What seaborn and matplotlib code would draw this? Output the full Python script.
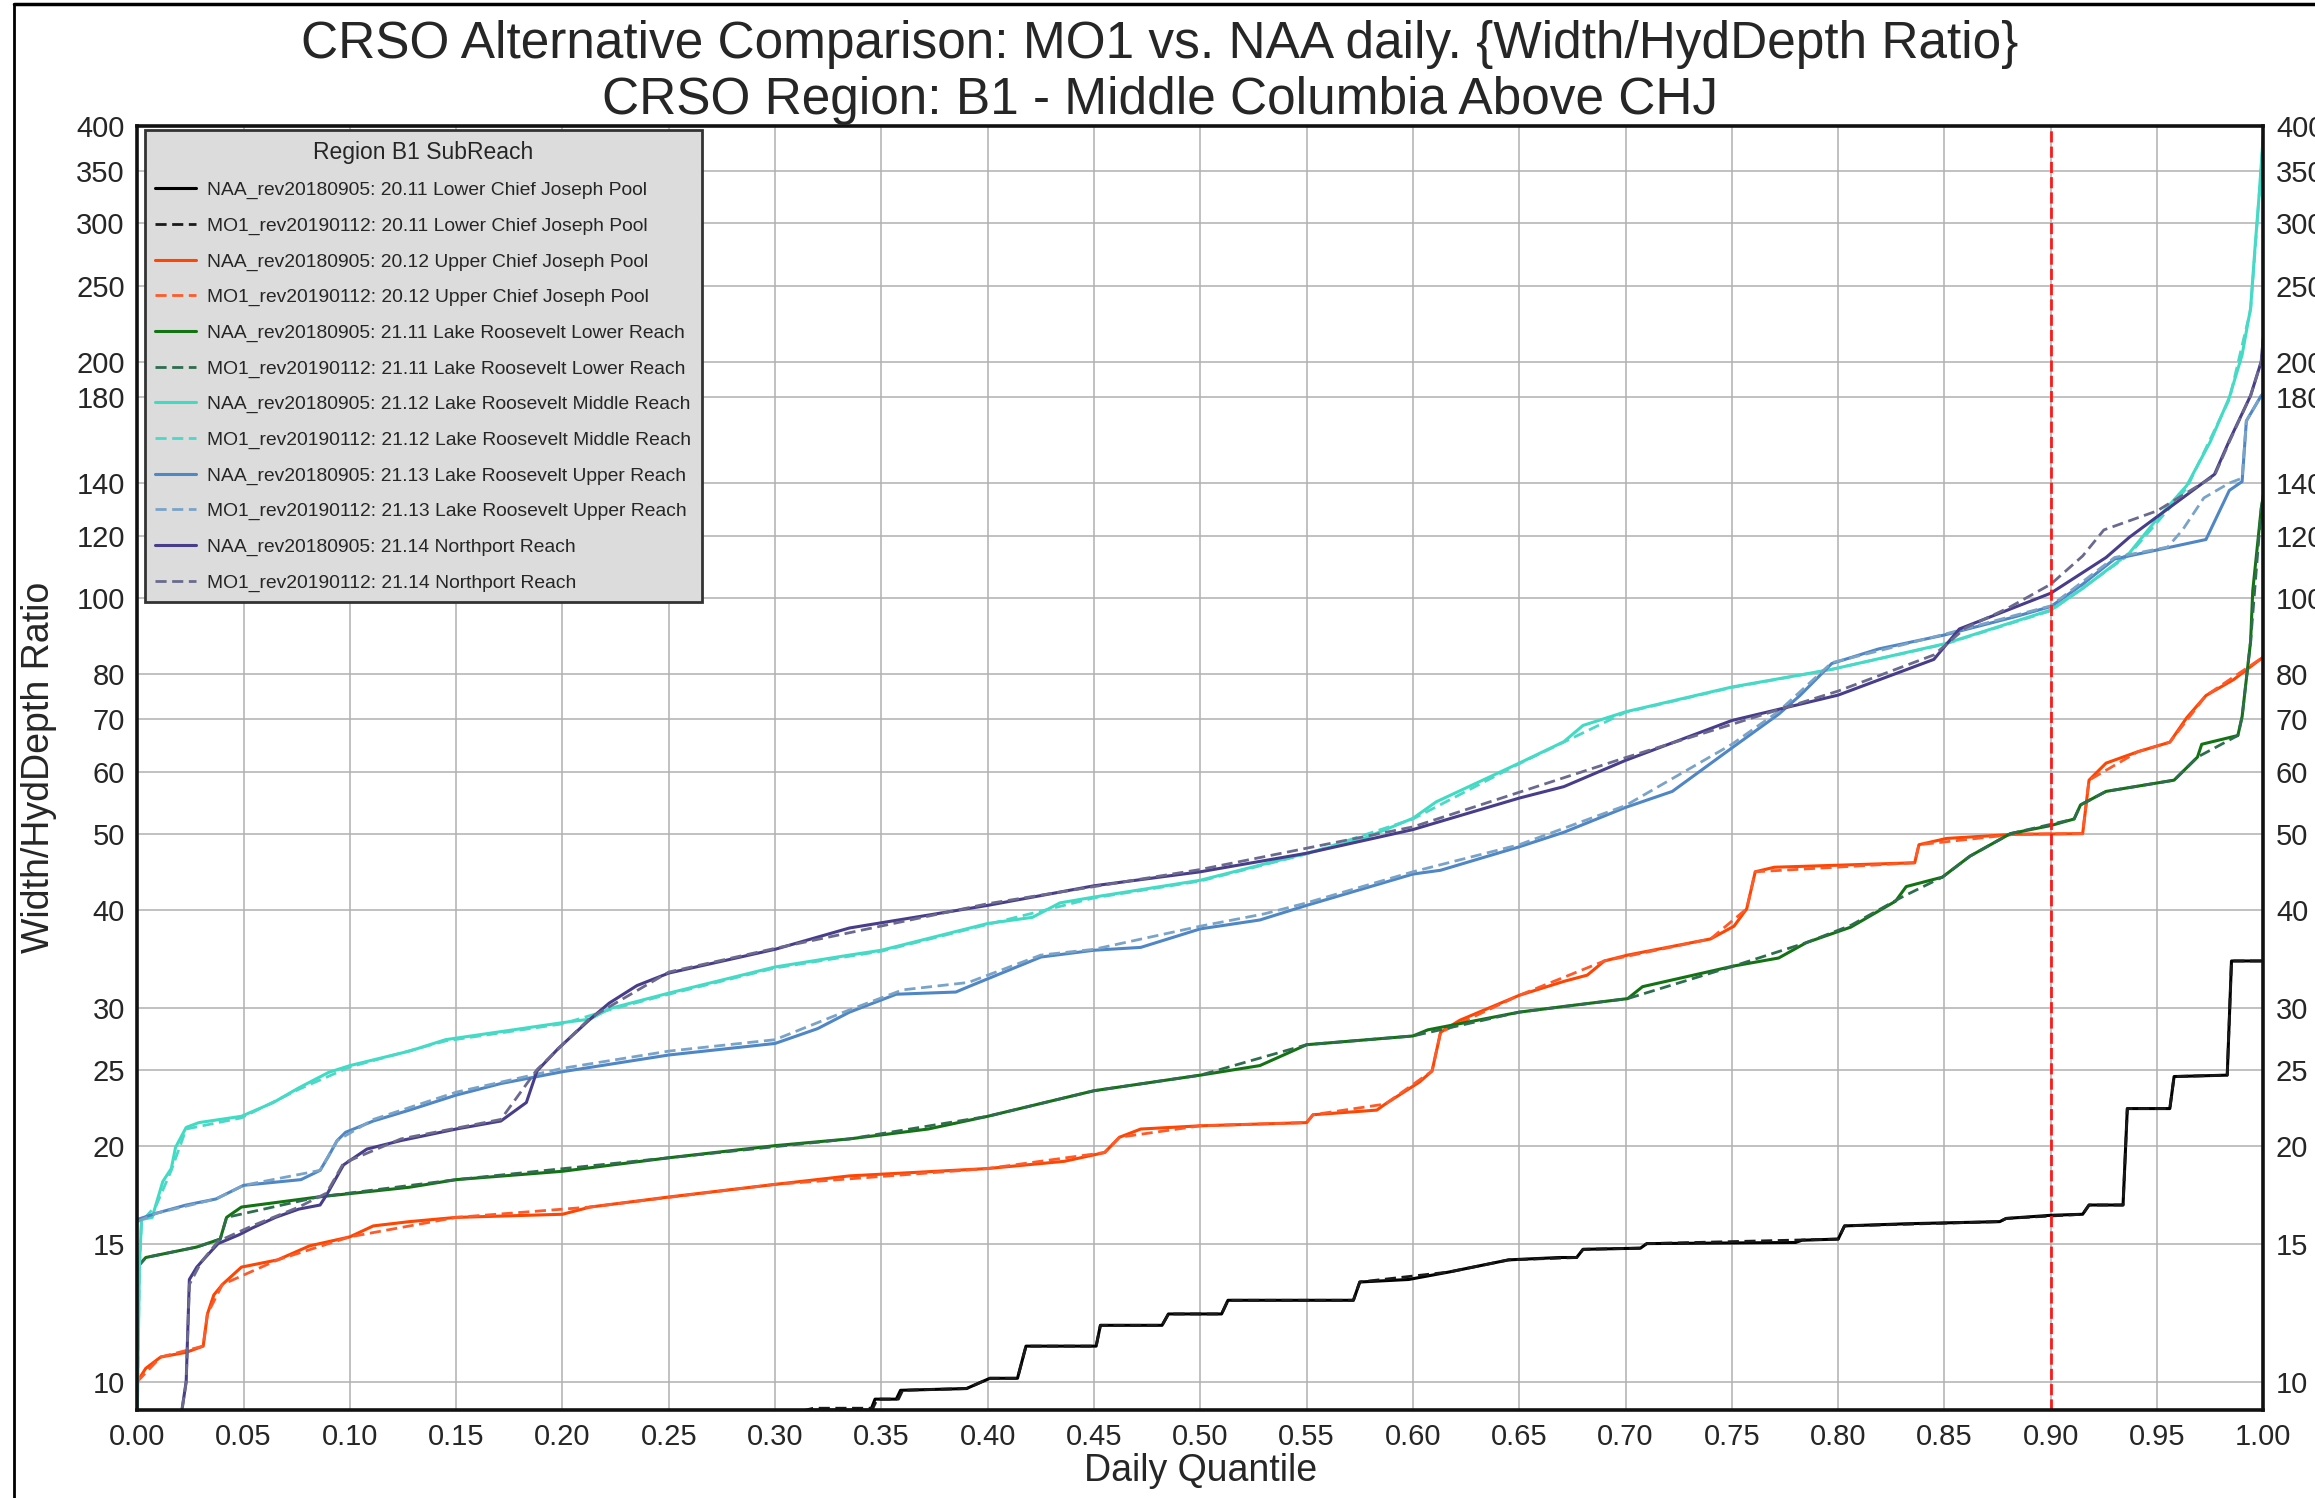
import numpy as np
import pandas as pd
import seaborn as sns
import matplotlib.pyplot as plt
from matplotlib.lines import Line2D
from matplotlib.ticker import NullLocator

# SETTING
title_1 = "CRSO Alternative Comparison: MO1 vs. NAA daily. {Width/HydDepth Ratio}"
title_2 = "CRSO Region: B1 - Middle Columbia Above CHJ"
legend_title = "Region B1 SubReach"
y_ticks = [10, 15, 20, 25, 30, 40, 50, 60, 70, 80, 100, 120, 140, 180, 200, 250, 300, 350, 400]
x_ticks = [0.00, 0.05, 0.10, 0.15, 0.20, 0.25, 0.30, 0.35, 0.40, 0.45, 0.50,
           0.55, 0.60, 0.65, 0.70, 0.75, 0.80, 0.85, 0.90, 0.95, 1.00]
threshold_quantile = 0.90

# 20.11 Lower Chief Joseph Pool
naa_2011_q = [0.0, 0.30, 0.318, 0.345, 0.347, 0.357, 0.359, 0.39, 0.401, 0.414, 0.418, 0.451, 0.453, 0.482,
              0.485, 0.510, 0.513, 0.572, 0.575, 0.598, 0.617, 0.645, 0.669, 0.677, 0.680, 0.707, 0.710,
              0.780, 0.783, 0.800, 0.803, 0.832, 0.876, 0.879, 0.900, 0.915, 0.918, 0.934, 0.936, 0.956,
              0.958, 0.983, 0.985, 1.0]
naa_2011_v = [8.2, 9.0, 9.2, 9.2, 9.5, 9.5, 9.75, 9.8, 10.1, 10.1, 11.1, 11.1, 11.8, 11.8,
              12.2, 12.2, 12.7, 12.7, 13.4, 13.5, 13.8, 14.3, 14.4, 14.4, 14.75, 14.8, 15.0,
              15.05, 15.15, 15.2, 15.8, 15.9, 16.0, 16.15, 16.3, 16.35, 16.8, 16.8, 22.3, 22.3,
              24.5, 24.6, 34.4, 34.4]
mo1_2011_q = [0.0, 0.30, 0.318, 0.346, 0.348, 0.358, 0.360, 0.39, 0.401, 0.414, 0.418, 0.451, 0.453, 0.482,
              0.485, 0.510, 0.513, 0.572, 0.575, 0.617, 0.645, 0.677, 0.680, 0.707, 0.710, 0.800, 0.803,
              0.876, 0.879, 0.915, 0.918, 0.934, 0.936, 0.956, 0.958, 0.983, 0.985, 1.0]
mo1_2011_v = [8.2, 9.0, 9.25, 9.25, 9.5, 9.5, 9.75, 9.8, 10.1, 10.1, 11.1, 11.1, 11.8, 11.8,
              12.2, 12.2, 12.7, 12.7, 13.4, 13.8, 14.3, 14.4, 14.75, 14.8, 15.0, 15.2, 15.8,
              16.0, 16.15, 16.35, 16.8, 16.8, 22.3, 22.3, 24.5, 24.6, 34.4, 34.4]

# 20.12 Upper Chief Joseph Pool
naa_2012_q = [0.0, 0.004, 0.011, 0.023, 0.031, 0.033, 0.036, 0.040, 0.049, 0.066, 0.081, 0.100, 0.111,
              0.128, 0.150, 0.200, 0.213, 0.250, 0.300, 0.335, 0.400, 0.436, 0.455, 0.462, 0.472, 0.500,
              0.550, 0.553, 0.583, 0.587, 0.603, 0.609, 0.613, 0.622, 0.650, 0.671, 0.682, 0.690, 0.701,
              0.740, 0.751, 0.757, 0.761, 0.770, 0.836, 0.838, 0.851, 0.883, 0.915, 0.918, 0.926, 0.941,
              0.956, 0.964, 0.973, 0.986, 1.0]
naa_2012_v = [10.0, 10.4, 10.75, 10.9, 11.1, 12.2, 12.9, 13.3, 14.0, 14.3, 14.9, 15.3, 15.8,
              16.0, 16.2, 16.35, 16.7, 17.2, 17.85, 18.3, 18.7, 19.1, 19.6, 20.5, 21.0, 21.2,
              21.4, 21.9, 22.2, 22.6, 24.1, 24.9, 27.9, 28.9, 31.1, 32.4, 33.0, 34.4, 35.0,
              36.7, 38.1, 40.1, 44.7, 45.3, 45.9, 48.4, 49.3, 49.9, 50.0, 58.5, 61.5, 63.6,
              65.4, 70.3, 75.0, 78.6, 84.0]
mo1_2012_q = [0.0, 0.011, 0.031, 0.033, 0.040, 0.066, 0.100, 0.150, 0.213, 0.300, 0.400, 0.455, 0.462,
              0.500, 0.550, 0.553, 0.587, 0.609, 0.613, 0.650, 0.690, 0.740, 0.757, 0.761, 0.836, 0.838,
              0.883, 0.915, 0.918, 0.941, 0.956, 0.973, 1.0]
mo1_2012_v = [10.0, 10.75, 11.1, 12.2, 13.3, 14.3, 15.3, 16.2, 16.7, 17.85, 18.7, 19.6, 20.5,
              21.2, 21.4, 21.9, 22.6, 24.9, 27.9, 31.1, 34.4, 36.7, 40.1, 44.7, 45.9, 48.4,
              49.9, 50.0, 58.5, 63.6, 65.4, 75.0, 84.0]

# 21.11 Lake Roosevelt Lower Reach
naa_2111_q = [0.0, 0.004, 0.028, 0.039, 0.042, 0.049, 0.085, 0.128, 0.150, 0.200, 0.250, 0.300, 0.335,
              0.372, 0.400, 0.421, 0.450, 0.500, 0.528, 0.550, 0.600, 0.607, 0.650, 0.671, 0.701, 0.708,
              0.751, 0.772, 0.785, 0.806, 0.827, 0.832, 0.849, 0.862, 0.881, 0.900, 0.911, 0.914, 0.926,
              0.958, 0.969, 0.971, 0.988, 0.990, 0.994, 0.995, 0.999, 1.0]
naa_2111_v = [14.0, 14.4, 14.85, 15.2, 16.2, 16.7, 17.2, 17.7, 18.1, 18.55, 19.3, 20.0, 20.4,
              21.0, 21.8, 22.5, 23.5, 24.6, 25.3, 26.9, 27.6, 28.1, 29.6, 30.1, 30.8, 31.9,
              33.9, 34.7, 36.3, 38.0, 41.0, 42.8, 44.0, 46.8, 50.0, 51.2, 52.2, 54.4, 56.6,
              58.5, 62.6, 65.0, 66.7, 70.5, 88.0, 102.0, 130.0, 135.0]
mo1_2111_q = [0.0, 0.004, 0.028, 0.039, 0.042, 0.085, 0.150, 0.250, 0.335, 0.400, 0.450, 0.500, 0.550,
              0.600, 0.650, 0.701, 0.751, 0.785, 0.806, 0.830, 0.849, 0.862, 0.881, 0.911, 0.914, 0.926,
              0.958, 0.969, 0.988, 0.990, 0.994, 0.999, 1.0]
mo1_2111_v = [14.0, 14.4, 14.85, 15.2, 16.2, 17.2, 18.1, 19.3, 20.4, 21.8, 23.5, 24.6, 26.9,
              27.6, 29.6, 30.8, 33.9, 36.3, 38.2, 41.5, 44.0, 46.8, 50.0, 52.2, 54.4, 56.6,
              58.5, 62.6, 66.7, 70.5, 88.0, 130.0, 135.0]

# 21.12 Lake Roosevelt Middle Reach
naa_2112_q = [0.0, 0.001, 0.002, 0.007, 0.009, 0.012, 0.016, 0.018, 0.023, 0.029, 0.049, 0.064, 0.076,
              0.090, 0.100, 0.128, 0.145, 0.200, 0.213, 0.222, 0.250, 0.300, 0.335, 0.350, 0.400, 0.421,
              0.434, 0.450, 0.500, 0.550, 0.577, 0.600, 0.611, 0.650, 0.671, 0.680, 0.700, 0.750, 0.797,
              0.850, 0.900, 0.915, 0.937, 0.950, 0.964, 0.975, 0.984, 0.990, 0.994, 0.996, 0.998, 1.0]
naa_2112_v = [9.0, 14.0, 16.1, 16.2, 16.9, 18.0, 18.7, 19.9, 21.1, 21.4, 21.8, 22.7, 23.7,
              24.8, 25.3, 26.4, 27.3, 28.7, 29.0, 29.9, 31.3, 33.8, 35.0, 35.5, 38.4, 39.1,
              40.8, 41.5, 43.6, 47.2, 49.3, 52.3, 54.9, 61.5, 65.5, 68.7, 71.5, 76.9, 81.0,
              87.3, 96.4, 102.7, 114.0, 126.0, 139.0, 158.0, 180.0, 204.0, 234.0, 278.0, 326.0, 390.0]
mo1_2112_q = [0.0, 0.001, 0.002, 0.009, 0.016, 0.023, 0.049, 0.076, 0.100, 0.145, 0.200, 0.222, 0.250,
              0.300, 0.350, 0.400, 0.450, 0.500, 0.550, 0.600, 0.650, 0.700, 0.750, 0.797, 0.850, 0.900,
              0.937, 0.964, 0.984, 0.994, 0.998, 1.0]
mo1_2112_v = [9.0, 14.0, 16.0, 16.8, 18.6, 21.0, 21.7, 23.6, 25.2, 27.2, 28.6, 29.8, 31.2,
              33.7, 35.4, 38.3, 41.4, 43.5, 47.1, 52.2, 61.4, 71.4, 76.8, 81.0, 87.2, 96.2,
              113.5, 138.0, 179.0, 233.0, 325.0, 388.0]

# 21.13 Lake Roosevelt Upper Reach
naa_2113_q = [0.0, 0.009, 0.023, 0.037, 0.050, 0.077, 0.086, 0.090, 0.094, 0.098, 0.111, 0.128, 0.150,
              0.171, 0.200, 0.250, 0.300, 0.320, 0.335, 0.357, 0.385, 0.391, 0.425, 0.450, 0.472, 0.500,
              0.528, 0.550, 0.600, 0.613, 0.650, 0.671, 0.700, 0.722, 0.750, 0.772, 0.782, 0.797, 0.819,
              0.850, 0.883, 0.900, 0.915, 0.930, 0.950, 0.973, 0.977, 0.984, 0.990, 0.992, 0.999, 1.0]
naa_2113_v = [16.1, 16.4, 16.8, 17.1, 17.8, 18.1, 18.6, 19.4, 20.3, 20.8, 21.5, 22.2, 23.2,
              24.0, 24.85, 26.1, 27.0, 28.2, 29.6, 31.2, 31.4, 31.9, 34.8, 35.5, 35.8, 37.8,
              38.8, 40.5, 44.4, 44.9, 48.1, 50.2, 54.0, 56.6, 64.3, 71.0, 75.0, 82.4, 86.0,
              89.6, 94.5, 97.4, 104.0, 112.0, 115.0, 118.6, 125.0, 137.0, 140.6, 168.0, 181.0, 182.0]
mo1_2113_q = [0.0, 0.009, 0.037, 0.050, 0.086, 0.094, 0.111, 0.150, 0.200, 0.250, 0.300, 0.335, 0.360,
              0.391, 0.425, 0.450, 0.500, 0.530, 0.550, 0.600, 0.650, 0.700, 0.750, 0.772, 0.797, 0.850,
              0.900, 0.930, 0.955, 0.962, 0.972, 0.984, 0.990, 0.992, 0.999, 1.0]
mo1_2113_v = [16.0, 16.4, 17.1, 17.8, 18.6, 20.3, 21.6, 23.4, 25.1, 26.4, 27.3, 29.8, 31.6,
              32.3, 35.0, 35.6, 38.1, 39.5, 40.8, 44.7, 48.4, 54.3, 65.0, 71.6, 82.6, 89.8,
              97.6, 112.5, 116.0, 122.0, 134.0, 140.0, 142.0, 168.0, 181.0, 182.0]

# 21.14 Northport Reach
naa_2114_q = [0.018, 0.021, 0.023, 0.0245, 0.028, 0.032, 0.038, 0.048, 0.054, 0.065, 0.076, 0.086, 0.089,
              0.097, 0.108, 0.124, 0.150, 0.171, 0.183, 0.188, 0.198, 0.213, 0.222, 0.235, 0.250, 0.300,
              0.335, 0.400, 0.450, 0.500, 0.550, 0.600, 0.650, 0.671, 0.700, 0.750, 0.800, 0.845, 0.857,
              0.900, 0.926, 0.937, 0.950, 0.977, 0.984, 0.994, 0.999, 1.0]
naa_2114_v = [8.0, 9.2, 10.0, 13.5, 14.0, 14.4, 15.0, 15.4, 15.7, 16.2, 16.6, 16.8, 17.3,
              18.9, 19.8, 20.3, 21.0, 21.5, 22.7, 24.9, 26.6, 29.0, 30.4, 32.0, 33.2, 35.6,
              37.9, 40.5, 42.9, 44.7, 47.2, 50.6, 55.5, 57.4, 62.0, 69.7, 75.1, 83.4, 91.2,
              101.3, 112.5, 119.4, 126.8, 143.6, 158.6, 181.0, 200.0, 215.0]
mo1_2114_q = [0.018, 0.021, 0.023, 0.0245, 0.030, 0.038, 0.054, 0.076, 0.089, 0.097, 0.124, 0.171,
              0.188, 0.213, 0.250, 0.300, 0.400, 0.500, 0.600, 0.700, 0.800, 0.845, 0.860, 0.880,
              0.900, 0.915, 0.925, 0.950, 0.977, 0.984, 0.994, 0.999, 1.0]
mo1_2114_v = [8.0, 9.2, 10.0, 13.3, 14.2, 15.1, 15.8, 16.7, 17.4, 19.0, 20.4, 21.6,
              25.0, 29.1, 33.3, 35.7, 40.7, 45.0, 51.0, 62.5, 76.0, 84.5, 91.5, 97.0,
              104.0, 113.0, 122.0, 129.0, 143.0, 158.0, 181.0, 200.0, 215.0]

series = [
    ("NAA_rev20180905: 20.11 Lower Chief Joseph Pool", naa_2011_q, naa_2011_v, "#000000", "-"),
    ("MO1_rev20190112: 20.11 Lower Chief Joseph Pool", mo1_2011_q, mo1_2011_v, "#1a1a1a", "--"),
    ("NAA_rev20180905: 20.12 Upper Chief Joseph Pool", naa_2012_q, naa_2012_v, "#ff4500", "-"),
    ("MO1_rev20190112: 20.12 Upper Chief Joseph Pool", mo1_2012_q, mo1_2012_v, "#ff5a2a", "--"),
    ("NAA_rev20180905: 21.11 Lake Roosevelt Lower Reach", naa_2111_q, naa_2111_v, "#137313", "-"),
    ("MO1_rev20190112: 21.11 Lake Roosevelt Lower Reach", mo1_2111_q, mo1_2111_v, "#2e6e4e", "--"),
    ("NAA_rev20180905: 21.12 Lake Roosevelt Middle Reach", naa_2112_q, naa_2112_v, "#3fdcc4", "-"),
    ("MO1_rev20190112: 21.12 Lake Roosevelt Middle Reach", mo1_2112_q, mo1_2112_v, "#4bd8c8", "--"),
    ("NAA_rev20180905: 21.13 Lake Roosevelt Upper Reach", naa_2113_q, naa_2113_v, "#4f86c6", "-"),
    ("MO1_rev20190112: 21.13 Lake Roosevelt Upper Reach", mo1_2113_q, mo1_2113_v, "#7aa3c8", "--"),
    ("NAA_rev20180905: 21.14 Northport Reach", naa_2114_q, naa_2114_v, "#483d8b", "-"),
    ("MO1_rev20190112: 21.14 Northport Reach", mo1_2114_q, mo1_2114_v, "#6a6a8e", "--"),
]

sns.set_style("white")
plt.rcParams['font.family'] = ['Liberation Sans', 'DejaVu Sans']

fig = plt.figure(figsize=(23.15, 14.98), dpi=100)
ax = fig.add_axes([0.0593, 0.0587, 0.9184, 0.8575])

for label, q, v, color, ls in series:
    df = pd.DataFrame({"quantile": q, "value": v})
    if ls == "-":
        sns.lineplot(data=df, x="quantile", y="value", ax=ax, color=color, linewidth=2.2,
                     label=label, estimator=None, sort=False)
    else:
        sns.lineplot(data=df, x="quantile", y="value", ax=ax, color=color, linewidth=2.0,
                     linestyle=(0, (4, 2)), label=label, estimator=None, sort=False)

ax.axvline(threshold_quantile, color="#ff1a1a", linestyle=(0, (4, 1.5)), linewidth=2.0, label="_nolegend_")

ax.set_yscale("log")
ax.set_ylim(9.2, 400)
ax.set_xlim(0, 1)
ax.set_yticks(y_ticks, [str(t) for t in y_ticks])
ax.yaxis.set_minor_locator(NullLocator())
ax.set_xticks(x_ticks, ["%.2f" % t for t in x_ticks])
ax.grid(True, which="major", color="#b0b0b0", linewidth=1.1)
ax.tick_params(axis="both", length=0, labelsize=21, pad=9)
ax.set_xlabel("Daily Quantile", fontsize=27, labelpad=2)
ax.set_ylabel("Width/HydDepth Ratio", fontsize=27, labelpad=14)
for sp in ax.spines.values():
    sp.set_visible(True)
    sp.set_color("#111111")
    sp.set_linewidth(2.6)

ax2 = ax.twinx()
ax2.set_yscale("log")
ax2.set_ylim(ax.get_ylim())
ax2.set_yticks(y_ticks, [str(t) for t in y_ticks])
ax2.yaxis.set_minor_locator(NullLocator())
ax2.grid(False)
ax2.tick_params(axis="y", length=0, labelsize=21, pad=9)
for sp in ax2.spines.values():
    sp.set_visible(False)

leg = ax.legend(title=legend_title, loc="upper left", bbox_to_anchor=(0.0035, 0.9965),
                borderaxespad=0, fontsize=13.9, title_fontsize=16.5, labelspacing=0.93,
                handlelength=2.1, handletextpad=0.6, borderpad=0.55, fancybox=False,
                frameon=True, facecolor="#dcdcdc", edgecolor="#333333", framealpha=1)
leg.get_frame().set_linewidth(2.0)

fig.text(0.501, 0.970, title_1, ha="center", va="center", fontsize=37)
fig.text(0.501, 0.933, title_2, ha="center", va="center", fontsize=37)

# page frame lines
fig.add_artist(Line2D([0.006, 0.006], [0.0, 0.997], transform=fig.transFigure, color="black", linewidth=2))
fig.add_artist(Line2D([0.006, 1.0], [0.997, 0.997], transform=fig.transFigure, color="black", linewidth=2.5))

plt.savefig("out.png", dpi=100)
plt.close()
